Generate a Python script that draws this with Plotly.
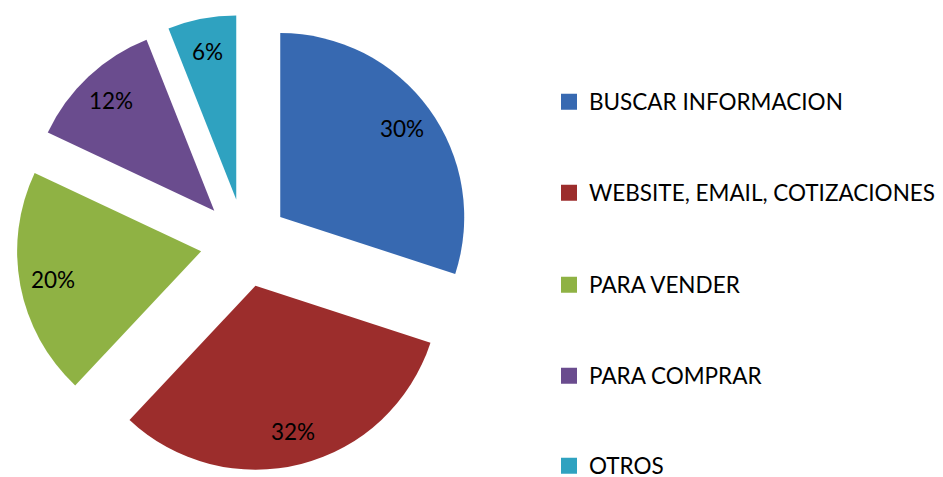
import math
import plotly.graph_objects as go

labels = ["BUSCAR INFORMACION", "WEBSITE, EMAIL, COTIZACIONES", "PARA VENDER", "PARA COMPRAR", "OTROS"]
values = [30, 32, 20, 12, 6]
colors = ["#3769b1", "#9c2d2c", "#8fb244", "#6a4c8e", "#2fa2c0"]

# the page body has an 8px default margin, so the figure is drawn 8px in
OFF = 8
W, H = 943 - OFF, 477 - OFF
# pie geometry (screen pixels, converted to figure pixels)
CX, CY, R, PULL = 244.5 - OFF, 243 - OFF, 184, 0.24
half = R * (1 + PULL)
FONT = "Lato"

fig = go.Figure()
fig.add_trace(go.Pie(
    labels=labels, values=values, sort=False, direction="clockwise", rotation=0,
    pull=[PULL] * len(values),
    marker=dict(colors=colors, line=dict(width=0)),
    textinfo="none",
    domain=dict(x=[max(0, (CX - half) / W), (CX + half) / W],
                y=[max(0, 1 - (CY + half) / H), 1 - (CY - half) / H]),
    showlegend=False, hovertemplate="%{label}: %{percent}<extra></extra>",
))

# percentage labels placed along each slice bisector
total = sum(values)
cum = 0
annotations = []
for v in values:
    mid = (cum + v / 2) / total * 2 * math.pi
    cum += v
    dist = R * (PULL + 0.82)
    px = CX + dist * math.sin(mid)
    py = CY - dist * math.cos(mid)
    annotations.append(dict(
        x=px / W, y=1 - py / H, xref="paper", yref="paper",
        xanchor="center", yanchor="middle",
        text=f"{round(v / total * 100)}%", showarrow=False,
        font=dict(family=FONT, size=22.5, color="black"),
    ))

legend_y = [102, 193, 285, 376, 466]
layout_legends = {}
for i, (lab, col) in enumerate(zip(labels, colors)):
    lname = "legend" if i == 0 else f"legend{i+1}"
    fig.add_trace(go.Scatter(
        x=[None], y=[None], mode="markers", name=lab,
        marker=dict(symbol="square", size=16, color=col),
        legend=lname, showlegend=True, hoverinfo="skip",
    ))
    layout_legends[lname] = dict(
        x=(549 - OFF) / W, xanchor="left", y=1 - (legend_y[i] - OFF) / H, yanchor="middle",
        font=dict(family=FONT, size=22.5, color="black"),
        bgcolor="rgba(0,0,0,0)", borderwidth=0,
    )

fig.update_layout(
    width=W, height=H, margin=dict(l=0, r=0, t=0, b=0, autoexpand=False),
    paper_bgcolor="white", plot_bgcolor="white",
    xaxis=dict(visible=False), yaxis=dict(visible=False),
    annotations=annotations,
    **layout_legends,
)
fig.write_html("out.html")
